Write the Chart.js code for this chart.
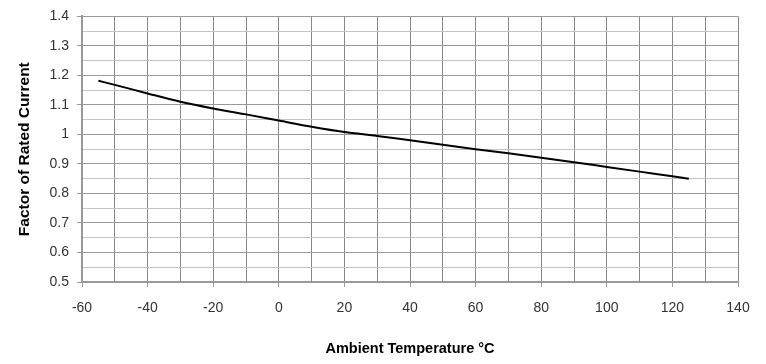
<!DOCTYPE html>
<html>
<head>
<meta charset="utf-8">
<script src="https://cdn.jsdelivr.net/npm/chart.js@4"></script>
<style>
  html, body { margin: 0; padding: 0; background: #fff; }
  #wrap { width: 766px; height: 364px; }
</style>
</head>
<body>
<div id="wrap"><canvas id="derating"></canvas></div>
<script>
const temperatures = [-55, -50, -40, -30, -20, -10, 0, 10, 20, 30, 40, 50, 60, 70, 80, 90, 100, 110, 120, 125];
const currentFactor = [1.182, 1.168, 1.139, 1.111, 1.088, 1.068, 1.047, 1.026, 1.008, 0.995, 0.98, 0.965, 0.95, 0.936, 0.921, 0.906, 0.89, 0.874, 0.858, 0.85];
const xMin = -60, xMax = 140;
const yMin = 0.5, yMax = 1.4;

const points = temperatures.map((t, i) => ({ x: t, y: currentFactor[i] }));

// labelled ticks only every 20 °C and every 0.1
const isMajorX = v => Math.abs(v % 20) < 1e-6;
const isMajorY = v => Math.abs(v * 10 - Math.round(v * 10)) < 1e-6;

const ctx = document.getElementById('derating').getContext('2d');

new Chart(ctx, {
    type: 'scatter',
    data: {
        datasets: [{
            data: points,
            showLine: true,
            borderColor: '#000',
            borderWidth: 2,
            pointRadius: 0,
            cubicInterpolationMode: 'monotone',
            fill: false
        }]
    },
    options: {
        responsive: true,
        maintainAspectRatio: false,
        animation: false,
        layout: {
            padding: { top: 15, right: 28, left: 0, bottom: 0 }
        },
        plugins: {
            legend: { display: false },
            tooltip: { enabled: false }
        },
        scales: {
            x: {
                type: 'linear',
                min: xMin,
                max: xMax,
                afterFit: s => { s.height = 82; },
                border: { color: '#999', width: 2 },
                grid: {
                    color: '#888',
                    lineWidth: 1,
                    tickLength: 5,
                    tickColor: c => isMajorX(c.tick.value) ? '#999' : 'rgba(0,0,0,0)'
                },
                ticks: {
                    stepSize: 10,
                    autoSkip: false,
                    maxRotation: 0,
                    padding: 13,
                    color: '#333',
                    font: { family: 'Liberation Sans', size: 14 },
                    callback: v => isMajorX(v) ? String(v) : ''
                },
                title: {
                    display: true,
                    text: 'Ambient Temperature °C',
                    color: '#000',
                    font: { family: 'Liberation Sans', size: 14.5, weight: 'bold' },
                    padding: { top: 0, bottom: 6 }
                }
            },
            y: {
                min: yMin,
                max: yMax,
                afterFit: s => { s.width = 82; },
                border: { color: '#999', width: 2 },
                grid: {
                    color: c => isMajorY(c.tick.value) ? '#999' : '#c4c4c4',
                    lineWidth: 1,
                    tickLength: 5,
                    tickColor: c => isMajorY(c.tick.value) ? '#999' : 'rgba(0,0,0,0)'
                },
                ticks: {
                    stepSize: 0.05,
                    autoSkip: false,
                    padding: 8,
                    color: '#333',
                    font: { family: 'Liberation Sans', size: 14 },
                    callback: v => isMajorY(v) ? String(Math.round(v * 10) / 10) : ''
                },
                title: {
                    display: true,
                    text: 'Factor of Rated Current',
                    color: '#000',
                    font: { family: 'Liberation Sans', size: 15.5, weight: 'bold' },
                    padding: { top: 15, bottom: 0 }
                }
            }
        }
    }
});
</script>
</body>
</html>
